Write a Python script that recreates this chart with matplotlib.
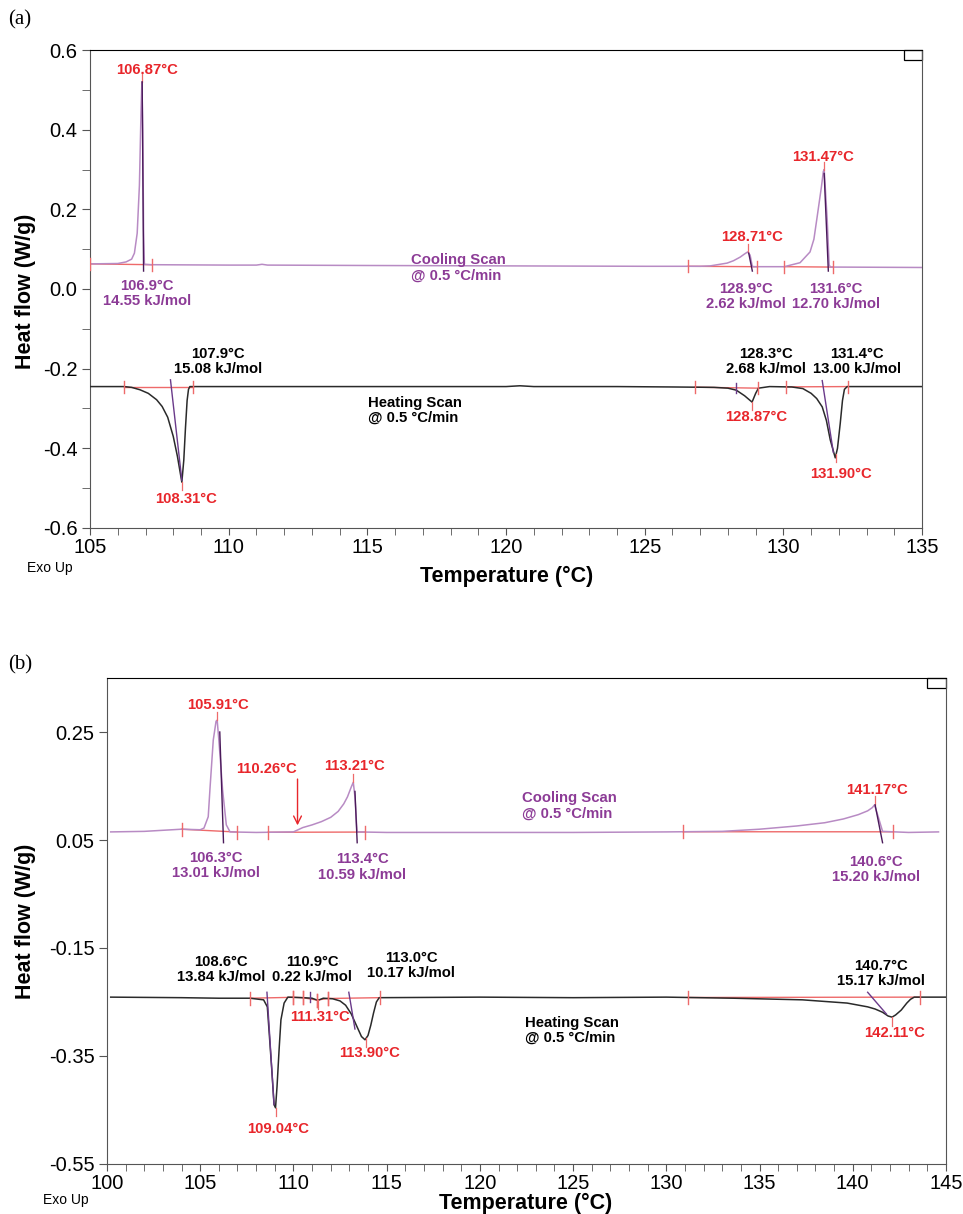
import matplotlib
matplotlib.use('Agg')
import numpy as np
import matplotlib.pyplot as plt
from matplotlib.ticker import MultipleLocator
from matplotlib.patches import Rectangle

plt.rcParams['font.family'] = ['Liberation Sans', 'DejaVu Sans']

# ---- panel (a) ----
a_cool_T = [105.0, 106.0, 106.3, 106.5, 106.6, 106.7, 106.78, 106.84, 106.87, 106.9, 106.93, 106.96,
            107.2, 110.0, 111.0, 111.2, 111.4, 115.0, 120.0, 125.0, 127.0, 127.36, 127.97, 128.2,
            128.44, 128.6, 128.71, 128.8, 128.87, 128.9, 129.2, 130.03, 130.6, 130.96, 131.1, 131.2,
            131.37, 131.44, 131.47, 131.58, 131.65, 131.7, 132.0, 135.0]
a_cool_hf = [0.063, 0.064, 0.068, 0.075, 0.09, 0.14, 0.26, 0.45, 0.52, 0.40, 0.15, 0.062,
             0.061, 0.060, 0.060, 0.062, 0.060, 0.059, 0.058, 0.057, 0.057, 0.058, 0.065, 0.071,
             0.080, 0.088, 0.093, 0.085, 0.06, 0.056, 0.056, 0.056, 0.066, 0.093, 0.125, 0.173,
             0.256, 0.295, 0.30, 0.173, 0.06, 0.055, 0.055, 0.054]
a_heat_T = [105.0, 106.23, 106.5, 106.8, 107.1, 107.4, 107.6, 107.8, 108.0, 108.15, 108.31, 108.38,
            108.44, 108.5, 108.55, 108.6, 110.0, 120.0, 120.5, 121.0, 124.0, 126.0, 127.5, 128.0,
            128.3, 128.6, 128.87, 129.0, 129.1, 129.5, 130.3, 130.7, 131.0, 131.2, 131.4, 131.55,
            131.69, 131.87, 131.95, 132.05, 132.13, 132.2, 132.3, 135.0]
a_heat_hf = [-0.245, -0.245, -0.247, -0.253, -0.262, -0.278, -0.295, -0.322, -0.370, -0.420, -0.485, -0.430,
             -0.350, -0.280, -0.252, -0.245, -0.245, -0.245, -0.243, -0.245, -0.245, -0.246, -0.247, -0.249,
             -0.254, -0.268, -0.284, -0.262, -0.249, -0.245, -0.246, -0.250, -0.262, -0.275, -0.296, -0.330,
             -0.379, -0.424, -0.400, -0.337, -0.280, -0.252, -0.245, -0.245]
a_cool_limits = [(105.0, 107.24), (126.56, 129.05), (130.03, 131.8)]
a_heat_limits = [(106.23, 108.7), (126.8, 129.1), (130.1, 132.34)]
a_cool_peaks = [106.87, 128.71, 131.47]
a_heat_peaks = [108.31, 128.87, 131.90]
a_onsets = [((106.88, 0.52), (106.93, 0.045), 'cool'), ((128.75, 0.09), (128.88, 0.045), 'cool'),
            ((131.47, 0.29), (131.62, 0.045), 'cool'), ((107.9, -0.228), (108.31, -0.48), 'heat'),
            ((128.3, -0.235), (128.3, -0.262), 'heat'), ((131.4, -0.23), (131.8, -0.41), 'heat')]

# ---- panel (b) ----
b_cool_T = [100.2, 102.0, 103.0, 104.0, 105.0, 105.2, 105.43, 105.53, 105.7, 105.85, 105.91, 106.0,
            106.1, 106.2, 106.4, 106.6, 108.0, 110.0, 110.5, 111.0, 111.5, 112.0, 112.4, 112.7,
            112.9, 113.1, 113.21, 113.3, 113.41, 115.0, 120.0, 125.0, 130.0, 133.0, 135.0, 137.0,
            138.5, 139.5, 140.3, 140.8, 141.05, 141.17, 141.35, 141.6, 143.0, 144.6]
b_cool_hf = [0.065, 0.066, 0.068, 0.070, 0.069, 0.072, 0.093, 0.148, 0.235, 0.270, 0.272, 0.235,
             0.190, 0.143, 0.078, 0.065, 0.064, 0.065, 0.073, 0.078, 0.084, 0.092, 0.103, 0.117,
             0.130, 0.148, 0.157, 0.130, 0.065, 0.064, 0.064, 0.064, 0.065, 0.066, 0.070, 0.076,
             0.082, 0.089, 0.097, 0.104, 0.110, 0.115, 0.095, 0.066, 0.064, 0.065]
b_heat_T = [100.2, 104.0, 106.0, 107.67, 108.4, 108.6, 108.7, 108.85, 108.96, 109.04, 109.12, 109.23,
            109.33, 109.5, 109.7, 110.5, 111.0, 111.31, 111.6, 112.1, 112.5, 112.8, 113.1, 113.4,
            113.65, 113.84, 114.0, 114.15, 114.3, 114.45, 114.6, 120.0, 125.0, 130.0, 133.6, 137.3,
            139.7, 140.8, 141.2, 141.6, 141.9, 142.11, 142.3, 142.6, 142.9, 143.1, 143.3, 145.0]
b_heat_hf = [-0.241, -0.242, -0.243, -0.243, -0.246, -0.259, -0.307, -0.381, -0.440, -0.446, -0.407, -0.339,
             -0.283, -0.252, -0.241, -0.242, -0.243, -0.247, -0.243, -0.244, -0.248, -0.256, -0.272, -0.295,
             -0.314, -0.320, -0.312, -0.293, -0.270, -0.250, -0.242, -0.241, -0.242, -0.241, -0.243, -0.246,
             -0.252, -0.259, -0.263, -0.269, -0.276, -0.278, -0.274, -0.265, -0.252, -0.245, -0.241, -0.241]
b_cool_limits = [(104.0, 106.97), (108.64, 113.84), (130.9, 142.17)]
b_heat_limits = [(107.67, 109.98), (109.98, 110.5), (110.5, 111.27), (111.27, 111.85),
                 (111.85, 114.65), (131.17, 143.6)]
b_cool_peaks = [105.91, 113.21, 141.17]
b_heat_peaks = [109.04, 111.31, 113.90, 142.11]
b_onsets = [((106.05, 0.25), (106.25, 0.045), 'cool'), ((113.3, 0.14), (113.42, 0.045), 'cool'),
            ((141.2, 0.115), (141.6, 0.045), 'cool'), ((108.58, -0.232), (108.96, -0.44), 'heat'),
            ((110.9, -0.232), (110.9, -0.25), 'heat'), ((112.97, -0.232), (113.3, -0.30), 'heat'),
            ((140.8, -0.232), (141.8, -0.272), 'heat')]

PURPLE = '#b88bc4'
PURPLE_DARK = '#4a1a5a'
PURPLE_TXT = '#8c3b96'
RED_TXT = '#e8262b'
RED_LINE = '#ee6a6a'
BLACK = '#2a2a2a'
FS = 10.7

fig = plt.figure(figsize=(9.63, 12.14), dpi=100)
ax1 = fig.add_axes([0.0935, 0.5651, 0.8640, 0.3937])
ax2 = fig.add_axes([0.1111, 0.0412, 0.8712, 0.4003])


def draw(ax, cT, chf, hT, hhf, climits, hlimits, cpeaks, hpeaks, onsets, tick_h):
    ax.plot(cT, chf, color=PURPLE, lw=1.1, zorder=3)
    ax.plot(hT, hhf, color=BLACK, lw=1.1, zorder=3)
    for T, hf, lims in [(cT, chf, climits), (hT, hhf, hlimits)]:
        for t0, t1 in lims:
            y0, y1 = np.interp(t0, T, hf), np.interp(t1, T, hf)
            ax.plot([t0, t1], [y0, y1], color=RED_LINE, lw=1.0, zorder=2)
            ax.plot([t0, t0], [y0 - tick_h, y0 + tick_h], color=RED_LINE, lw=1.0, zorder=4)
            ax.plot([t1, t1], [y1 - tick_h, y1 + tick_h], color=RED_LINE, lw=1.0, zorder=4)
    for p in cpeaks:
        y = np.interp(p, cT, chf)
        ax.plot([p, p], [y, y + tick_h * 1.3], color=RED_LINE, lw=0.9, zorder=4)
    for p in hpeaks:
        y = np.interp(p, hT, hhf)
        ax.plot([p, p], [y, y - tick_h * 1.3], color=RED_LINE, lw=0.9, zorder=4)
    for (t0, y0), (t1, y1), kind in onsets:
        ax.plot([t0, t1], [y0, y1], color=PURPLE_DARK if kind == 'cool' else '#6a3a8a',
                lw=1.0, zorder=5)

    for side in ['left', 'bottom', 'right']:
        ax.spines[side].set_color('#555555')
    ax.spines['top'].set_color('black')
    ax.xaxis.set_minor_locator(MultipleLocator(1))
    ax.tick_params(axis='both', which='both', direction='out', colors='#555555',
                   labelcolor='black', labelsize=14.5)
    ax.tick_params(axis='x', which='major', length=5, pad=2)
    ax.tick_params(axis='x', which='minor', length=5)
    ax.tick_params(axis='y', which='major', length=6, pad=3)
    ax.tick_params(axis='y', which='minor', length=6)
    ax.add_patch(Rectangle((0.978, 0.98), 0.022, 0.02, transform=ax.transAxes,
                           fill=False, edgecolor='black', lw=0.9, clip_on=False))


draw(ax1, a_cool_T, a_cool_hf, a_heat_T, a_heat_hf, a_cool_limits, a_heat_limits,
     a_cool_peaks, a_heat_peaks, a_onsets, 0.015)
ax1.set_xlim(105, 135)
ax1.set_ylim(-0.6, 0.6)
ax1.set_yticks([0.6, 0.4, 0.2, 0.0, -0.2, -0.4, -0.6])
ax1.set_yticklabels(['0.6', '0.4', '0.2', '0.0', '-0.2', '-0.4', '-0.6'])
ax1.yaxis.set_minor_locator(MultipleLocator(0.1))

draw(ax2, b_cool_T, b_cool_hf, b_heat_T, b_heat_hf, b_cool_limits, b_heat_limits,
     b_cool_peaks, b_heat_peaks, b_onsets, 0.012)
ax2.set_xlim(100, 145)
ax2.set_ylim(-0.55, 0.35)
ax2.set_yticks([0.25, 0.05, -0.15, -0.35, -0.55])
ax2.set_yticklabels(['0.25', '0.05', '-0.15', '-0.35', '-0.55'])

# arrow at 110.26 C
ax2.annotate('', xy=(110.22, 0.072), xytext=(110.22, 0.168),
             arrowprops=dict(arrowstyle='->', color=RED_TXT, lw=1.0, mutation_scale=14))

kw = dict(fontsize=FS, fontweight='bold', ha='center', va='center', linespacing=1.1)
a_texts = [
    (107.06, 0.550, '106.87°C', RED_TXT), (107.05, -0.011, '106.9°C\n14.55 kJ/mol', PURPLE_TXT),
    (128.87, 0.130, '128.71°C', RED_TXT), (131.43, 0.331, '131.47°C', RED_TXT),
    (128.66, -0.018, '128.9°C\n2.62 kJ/mol', PURPLE_TXT), (131.90, -0.018, '131.6°C\n12.70 kJ/mol', PURPLE_TXT),
    (109.62, -0.183, '107.9°C\n15.08 kJ/mol', 'black'), (108.46, -0.527, '108.31°C', RED_TXT),
    (129.38, -0.183, '128.3°C\n2.68 kJ/mol', 'black'), (132.66, -0.183, '131.4°C\n13.00 kJ/mol', 'black'),
    (129.02, -0.321, '128.87°C', RED_TXT), (132.08, -0.465, '131.90°C', RED_TXT),
]
for x, y, s, c in a_texts:
    ax1.text(x, y, s, color=c, **kw)
ax1.text(116.58, 0.053, 'Cooling Scan\n@ 0.5 °C/min', color=PURPLE_TXT, fontsize=FS,
         fontweight='bold', ha='left', va='center', linespacing=1.1)
ax1.text(115.03, -0.304, 'Heating Scan\n@ 0.5 °C/min', color='black', fontsize=FS,
         fontweight='bold', ha='left', va='center', linespacing=1.1)

b_texts = [
    (105.95, 0.300, '105.91°C', RED_TXT), (108.58, 0.181, '110.26°C', RED_TXT),
    (113.30, 0.187, '113.21°C', RED_TXT), (105.85, 0.002, '106.3°C\n13.01 kJ/mol', PURPLE_TXT),
    (113.68, 0.000, '113.4°C\n10.59 kJ/mol', PURPLE_TXT), (141.31, 0.143, '141.17°C', RED_TXT),
    (141.26, -0.004, '140.6°C\n15.20 kJ/mol', PURPLE_TXT),
    (106.12, -0.189, '108.6°C\n13.84 kJ/mol', 'black'), (111.0, -0.189, '110.9°C\n0.22 kJ/mol', 'black'),
    (116.31, -0.183, '113.0°C\n10.17 kJ/mol', 'black'), (141.52, -0.198, '140.7°C\n15.17 kJ/mol', 'black'),
    (142.22, -0.307, '142.11°C', RED_TXT), (111.43, -0.278, '111.31°C', RED_TXT),
    (109.17, -0.485, '109.04°C', RED_TXT), (114.06, -0.344, '113.90°C', RED_TXT),
]
for x, y, s, c in b_texts:
    ax2.text(x, y, s, color=c, **kw)
ax2.text(122.26, 0.113, 'Cooling Scan\n@ 0.5 °C/min', color=PURPLE_TXT, fontsize=FS,
         fontweight='bold', ha='left', va='center', linespacing=1.1)
ax2.text(122.42, -0.302, 'Heating Scan\n@ 0.5 °C/min', color='black', fontsize=FS,
         fontweight='bold', ha='left', va='center', linespacing=1.1)

W, H = 963.0, 1214.0
def ft(x, y, s, **k):
    fig.text(x / W, 1 - y / H, s, **k)

ft(20, 20, '(a)', fontsize=15, family='Liberation Serif', ha='center', va='center')
ft(20, 665, '(b)', fontsize=15, family='Liberation Serif', ha='center', va='center')
for y in [291, 921]:
    ft(25, y, 'Heat flow (W/g)', fontsize=15.5, fontweight='bold', rotation=90, ha='center', va='center')
ft(507, 576, 'Temperature (°C)', fontsize=15.5, fontweight='bold', ha='center', va='center')
ft(526, 1203, 'Temperature (°C)', fontsize=15.5, fontweight='bold', ha='center', va='center')
ft(50, 568, 'Exo Up', fontsize=10, ha='center', va='center')
ft(66, 1200, 'Exo Up', fontsize=10, ha='center', va='center')

fig.savefig('out.png', dpi=100)
